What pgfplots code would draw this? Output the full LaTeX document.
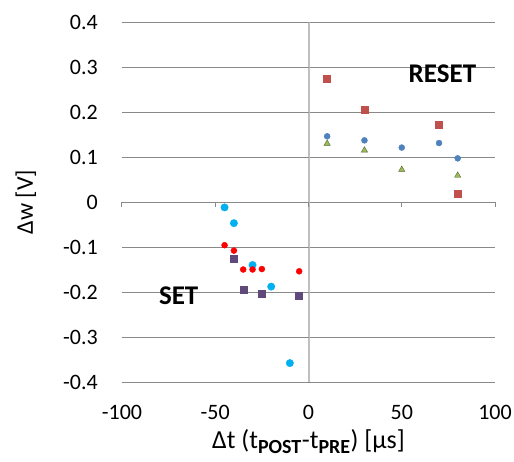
\documentclass[border=0pt]{standalone}
\usepackage{fontspec}
\setmainfont{Carlito}
\usepackage{pgfplots}
\pgfplotsset{compat=1.18}

\definecolor{gridgray}{HTML}{898989}
\definecolor{axisgray}{HTML}{BFBFBF}
\definecolor{setcyan}{HTML}{00B0F0}
\definecolor{setred}{HTML}{FF0000}
\definecolor{setpurple}{HTML}{604A7B}
\definecolor{resetred}{HTML}{C0504D}
\definecolor{resetblue}{HTML}{4F81BD}
\definecolor{resetgreen}{HTML}{9BBB59}

\newcommand{\sub}[1]{\textsubscript{\fontsize{20}{20}\selectfont\bfseries #1}}

\begin{document}
\begin{tikzpicture}
\begin{axis}[
    scale only axis, width=373pt, height=360pt,
    xmin=-100, xmax=100, ymin=-0.4, ymax=0.4,
    xtick={-100,-50,0,50,100},
    ytick={-0.4,-0.3,-0.2,-0.1,0,0.1,0.2,0.3,0.4},
    axis line style={draw=none}, major tick length=0pt,
    ymajorgrids, grid style={draw=gridgray, line width=1pt},
    /pgf/number format/assume math mode=true,
    scaled y ticks=false,
    tick label style={font=\fontsize{22}{26}\selectfont, inner sep=0pt},
    yticklabel style={/pgf/number format/fixed, /pgf/number format/precision=1,
                      anchor=east, xshift=-24pt},
    xticklabel style={anchor=center, yshift=-30pt},
    xlabel={Δt (t\sub{POST}-t\sub{PRE}) [μs]},
    ylabel={Δw [V]},
    label style={font=\fontsize{24}{28}\selectfont},
    xlabel style={at={(axis description cs:0.5,-0.166)}, anchor=center,
                  font=\fontsize{26}{30}\selectfont},
    ylabel style={at={(axis description cs:-0.258,0.5)}, anchor=center},
    clip=false,
]
% SET side
\addplot[only marks, mark=*, mark size=3.7pt, color=setcyan] coordinates {
    (-45,-0.012) (-40,-0.047) (-30,-0.140) (-20,-0.188) (-10,-0.358)
};
\addplot[only marks, mark=*, mark size=3pt, color=setred] coordinates {
    (-45,-0.096) (-40,-0.108) (-35,-0.150) (-30,-0.150) (-25,-0.149) (-5,-0.154)
};
\addplot[only marks, mark=square*, mark size=3.5pt, color=setpurple] coordinates {
    (-40,-0.127) (-35,-0.195) (-25,-0.203) (-5,-0.209)
};
% RESET side
\addplot[only marks, mark=square*, mark size=3.5pt, color=resetred] coordinates {
    (10,0.273) (30,0.205) (70,0.171) (80,0.018)
};
\addplot[only marks, mark=*, mark size=3pt, color=resetblue] coordinates {
    (10,0.146) (30,0.137) (50,0.121) (70,0.131) (80,0.097)
};
\addplot[only marks, mark=triangle*, mark size=3.6pt, draw=resetgreen!55!black, fill=resetgreen] coordinates {
    (10,0.130) (30,0.115) (50,0.072) (80,0.059)
};

% axes crossing at the origin
\draw[axisgray, line width=2pt] (axis cs:0,-0.4) -- (axis cs:0,0.4);
\pgfplotsinvokeforeach{-100,-50,0,50,100}{
    \draw[gridgray, line width=1pt] (axis cs:#1,0) -- ++(0pt,-5pt);
}
\pgfplotsinvokeforeach{-0.4,-0.3,-0.2,-0.1,0,0.1,0.2,0.3,0.4}{
    \draw[gridgray, line width=1pt] (axis cs:0,#1) -- ++(-5pt,0pt);
}

\node[font=\bfseries\fontsize{27}{30}\selectfont] at (axis cs:71.8,0.285) {RESET};
\node[font=\bfseries\fontsize{27}{30}\selectfont] at (axis cs:-69.6,-0.208) {SET};

\coordinate (sw) at (rel axis cs:0,0);
\coordinate (ne) at (rel axis cs:1,1);
\end{axis}
\pgfresetboundingbox
\path[use as bounding box] ([shift={(-122pt,-79pt)}]sw) rectangle ([shift={(19pt,22pt)}]ne);
\end{tikzpicture}
\end{document}
